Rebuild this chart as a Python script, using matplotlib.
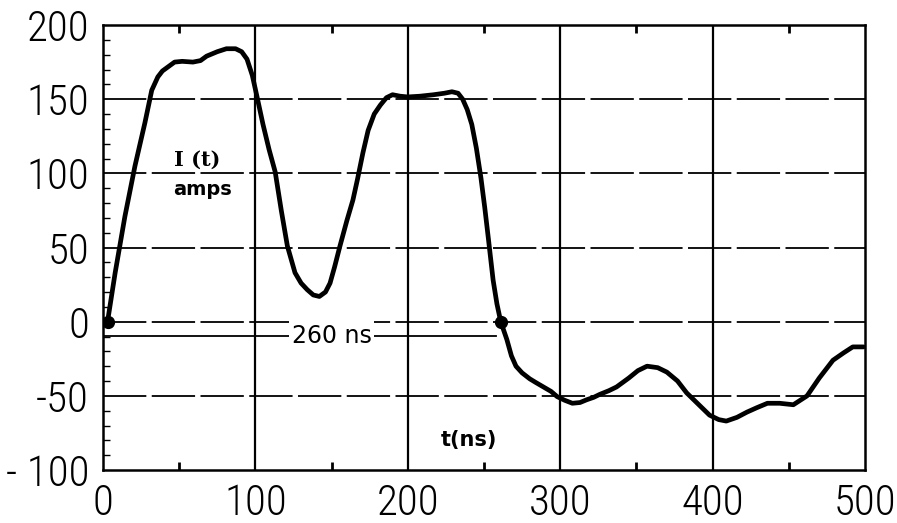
import matplotlib
matplotlib.use("Agg")
import matplotlib.pyplot as plt
from matplotlib.ticker import MultipleLocator, FixedLocator
from matplotlib import font_manager

# current pulse
t_ns = [3, 8, 14.4, 21, 27.5, 32, 36, 39, 43, 47, 52, 59, 64, 68, 75, 81, 87, 91,
        94.5, 98, 101, 105, 109, 113, 117, 121, 126, 130, 134, 138, 142, 146, 149,
        152, 155.5, 160, 164, 167, 170.6, 174, 178, 182, 186, 190, 195, 200, 208,
        217, 224, 229, 233, 236, 239, 242, 245, 248, 250.5, 253, 256, 258.5, 261,
        265, 268, 271, 275, 280, 284, 289, 294, 298, 303, 308, 313, 317.5, 322, 326,
        332, 337, 345, 351, 357, 364, 370, 377, 383, 390, 398, 404, 409, 416,
        422.5, 429, 436, 444, 453, 462, 470, 479, 486, 492, 499]
i_amps = [0, 33, 71, 105, 134, 156, 165, 169, 172, 175, 175.5, 175, 176, 179, 182,
          184, 184, 182, 177, 166, 152, 133, 116, 101, 75, 51, 33, 26, 21.6, 18, 17,
          20, 26, 37, 51, 68, 82, 96, 114, 129, 140, 146, 151, 153, 152, 151.5, 152,
          153, 154, 155, 154, 150, 143, 133, 117, 97, 77, 55, 28, 12, 0,
          -12, -23, -30, -34.5, -38.5, -41, -44, -47, -50.5, -53, -55, -54.5, -52.6, -51,
          -49, -46.5, -44, -38, -33, -30, -31, -34, -40, -48, -55, -63, -66, -67,
          -64.5, -61, -58, -55, -55, -56, -50, -38, -26, -21, -17, -17]

marker_t = [3, 261]
marker_i = [0, 0]

x_ticks = [0, 100, 200, 300, 400, 500]
y_ticks = [-100, -50, 0, 50, 100, 150, 200]
y_tick_labels = ["- 100", "-50", "0", "50", "100", "150", "200"]
grid_x = [100, 200, 300, 400]
grid_y = [-50, 0, 50, 100, 150]
span_start, span_end, span_level = 0, 258, -9.5

# narrow face for the tick numbers, if one is around
names = {f.name for f in font_manager.fontManager.ttflist}
narrow = [n for n in ["Liberation Sans Narrow", "Roboto Condensed", "DejaVu Sans Condensed"]
          if n in names]
if narrow:
    tick_font, tick_size = [narrow[0], "DejaVu Sans"], 31
else:
    tick_font, tick_size = ["Liberation Sans", "DejaVu Sans"], 27

fig = plt.figure(figsize=(8.97, 5.23), dpi=100)
ax = fig.add_axes([0.1148, 0.1013, 0.8495, 0.8509])

for gx in grid_x:
    ax.axvline(gx, color="black", lw=1.6, zorder=1)
for gy in grid_y:
    ax.axhline(gy, color="black", lw=1.3, dashes=(24, 3), zorder=1)

ax.plot([span_start, span_end], [span_level, span_level], color="black", lw=1.3, zorder=1)
ax.text(150, span_level, "260 ns", fontsize=17, ha="center", va="center",
        bbox=dict(facecolor="white", edgecolor="none", pad=2), zorder=2)

ax.plot(t_ns, i_amps, color="black", lw=3.4, solid_joinstyle="round",
        solid_capstyle="round", zorder=3)
ax.plot(marker_t, marker_i, "o", color="black", ms=8.5, zorder=4)

ax.text(62, 109, "I (t)", fontsize=15, fontweight="bold", family="DejaVu Serif",
        ha="center", va="center")
ax.text(65, 89, "amps", fontsize=14, fontweight="bold", ha="center", va="center")
ax.text(240, -80, "t(ns)", fontsize=15, fontweight="bold", ha="center", va="center")

ax.set_xlim(0, 500)
ax.set_ylim(-100, 200)
ax.set_xticks(x_ticks)
ax.set_yticks(y_ticks)
ax.set_yticklabels(y_tick_labels)
for lab in ax.get_xticklabels() + ax.get_yticklabels():
    lab.set_family(tick_font)
    lab.set_fontsize(tick_size)
    lab.set_fontweight("light")

ax.tick_params(axis="both", which="major", length=0)
ax.tick_params(axis="y", pad=10)
ax.tick_params(axis="x", pad=9)

ax.xaxis.set_minor_locator(FixedLocator([50, 150, 250, 350, 450]))
ax.tick_params(axis="x", which="minor", direction="in", length=6, width=2,
               top=True, bottom=True)
ax.yaxis.set_minor_locator(MultipleLocator(10))
ax.tick_params(axis="y", which="minor", direction="in", length=5, width=1,
               left=True, right=False)

for sp in ax.spines.values():
    sp.set_linewidth(1.8)

fig.savefig("out.png", dpi=100)
